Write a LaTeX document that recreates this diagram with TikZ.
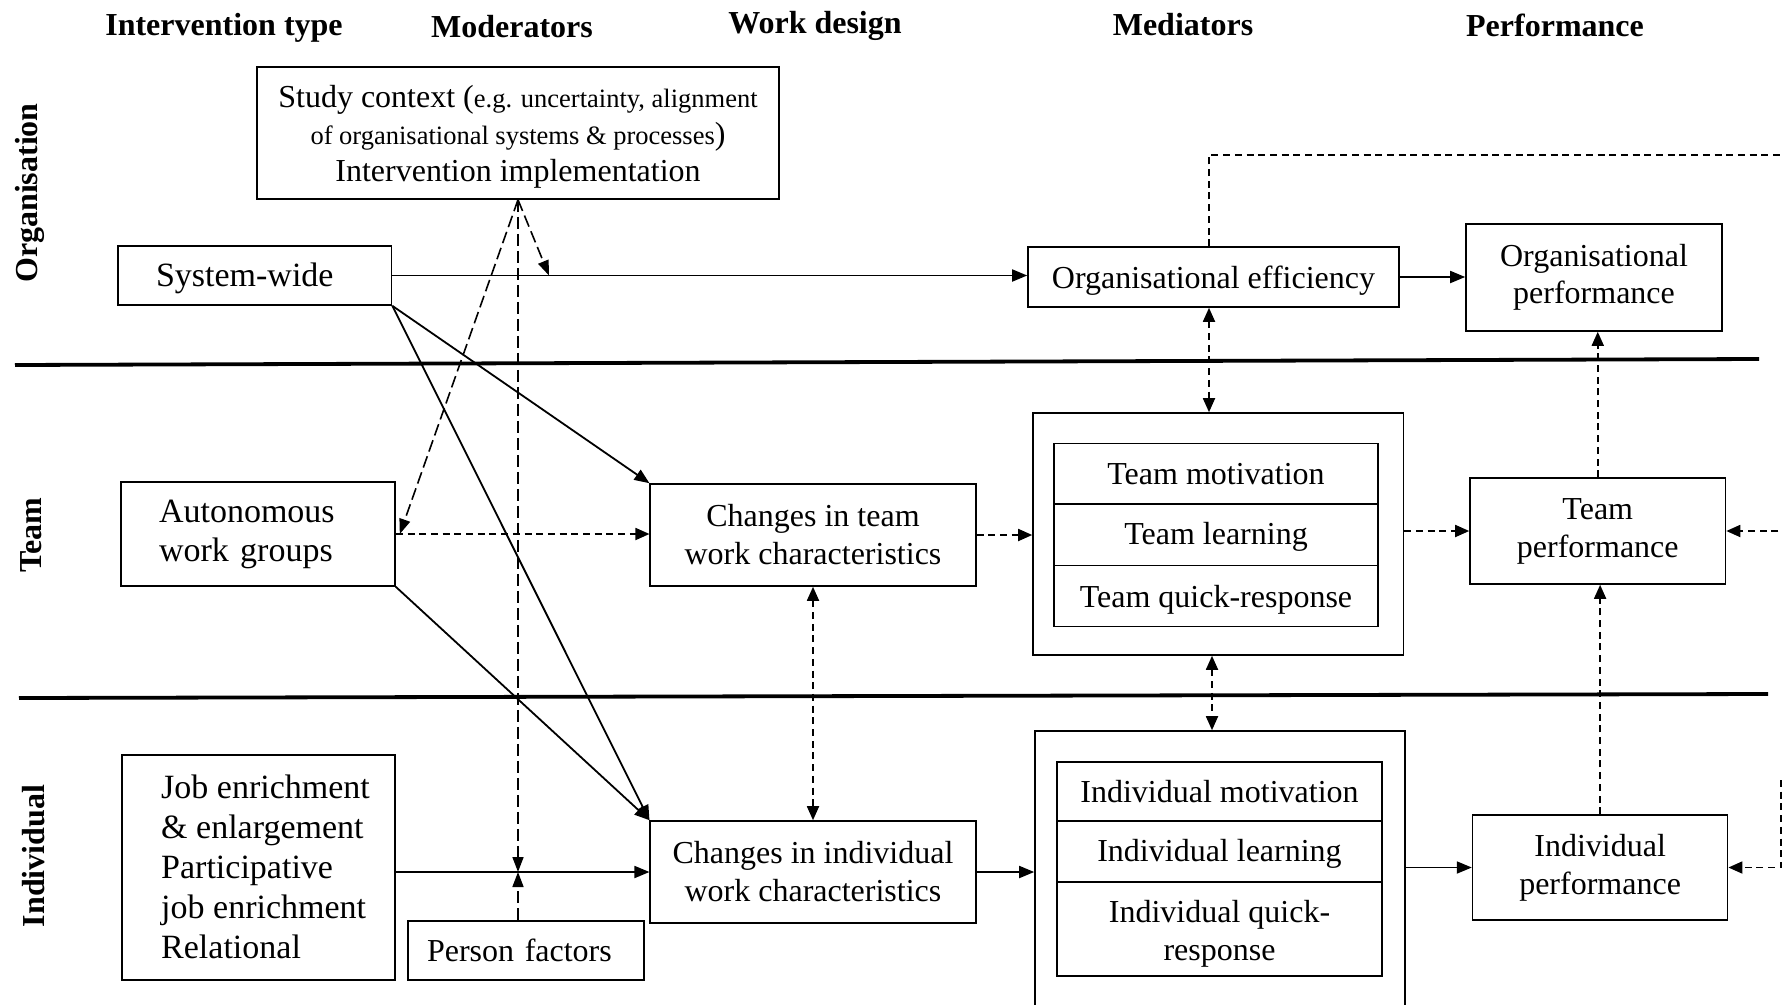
\documentclass[tikz,border=0pt]{standalone}
\usepackage{fontspec}
\setmainfont{Liberation Serif}
\usetikzlibrary{arrows.meta}
\newcommand\myfs[2]{\fontsize{#1pt}{#2pt}\selectfont}
\newcommand\lift[1]{\rule{0pt}{#1pt}}
\begin{document}
\begin{tikzpicture}[x=1pt,y=-1pt,
  box/.style={draw, line width=1.6pt, inner sep=0pt, align=center, font=\myfs{32}{38}},
  lbox/.style={box, align=left, font=\myfs{34}{39}},
  head/.style={font=\bfseries\myfs{32}{38}, inner sep=0pt},
  side/.style={font=\bfseries\myfs{32}{38}, inner sep=0pt, rotate=90},
  sep/.style={line width=3.8pt},
  arr/.style={line width=1.8pt, -{Triangle[length=15pt,width=12pt]}},
  darr/.style={line width=1.8pt, dash pattern=on 7pt off 4.7pt, -{Triangle[length=14pt,width=12pt]}},
  darrb/.style={line width=1.8pt, dash pattern=on 7pt off 4.7pt, {Triangle[length=14pt,width=12pt]}-{Triangle[length=14pt,width=12pt]}},
  dline/.style={line width=1.8pt, dash pattern=on 7pt off 4.7pt},
  ldarr/.style={line width=1.6pt, dash pattern=on 12pt off 5pt, -{Triangle[length=15pt,width=11pt]}}
]
\clip (0,0) rectangle (1783,1004);
\fill[white] (0,0) rectangle (1783,1004);

% headings
\node[head] (h1) at (224,28) {Intervention type};
\node[head] (h2) at (512,27) {Moderators};
\node[head] (h3) at (815,26) {Work design};
\node[head] (h4) at (1183,25) {Mediators};
\node[head] (h5) at (1555,25) {Performance};

\node[side] (s1) at (30,193) {Organisation};
\node[side] (s2) at (31,535) {Team};
\node[side] (s3) at (34,856) {Individual};

% separators
\draw[sep] (15,365) -- (1759,359);
\draw[sep] (19,698) -- (1768,694);

% boxes
\node[box, minimum width=522pt, minimum height=132pt, font=\myfs{32}{37}] (ctx) at (518,133)
  {\lift{29}Study context ({\myfs{26.5}{37}e.g. uncertainty, alignment}\\
   {\myfs{26.5}{37}of organisational systems \& processes})\\
   Intervention implementation};

\node[lbox, text width=197.5pt, inner xsep=38pt, minimum width=273.5pt, minimum height=59pt] (sys) at (254.75,275.5) {\lift{30}System-wide};
\node[lbox, text width=198pt, inner xsep=38pt, minimum width=274pt, minimum height=104pt] (auton) at (258,534) {Autonomous\\work groups};
\node[box, minimum width=273pt, minimum height=225pt] (job) at (258.5,867.5) {};
\node[font=\myfs{34}{40}, align=left, anchor=west, inner sep=0pt] (jobtxt) at (161,867)
  {Job enrichment\\\& enlargement\\Participative\\job enrichment\\Relational};
\node[box, align=left, text width=198pt, inner xsep=19pt, minimum width=236pt, minimum height=59pt] (pers) at (526,950.5) {Person factors};

\node[box, minimum width=325.5pt, minimum height=102pt] (tchg) at (813,535) {Changes in team\\work characteristics};
\node[box, minimum width=325.5pt, minimum height=102pt] (ichg) at (813,872) {Changes in individual\\work characteristics};

\node[box, minimum width=371pt, minimum height=60pt] (oeff) at (1213.5,277) {\lift{29}Organisational efficiency};
\node[box, minimum width=256pt, minimum height=107pt, font=\myfs{32}{37}] (operf) at (1594,277.5) {Organisational\\performance};

\node[box, minimum width=370.5pt, minimum height=242pt] (tmed) at (1218.25,534) {};
\node[box, minimum width=324.3pt, minimum height=60.7pt] (tm1) at (1216,473.7) {Team motivation};
\node[box, minimum width=324.3pt, minimum height=61.4pt] (tm2) at (1216,534.7) {\lift{26}Team learning};
\node[box, minimum width=324.3pt, minimum height=60.9pt] (tm3) at (1216,595.9) {\lift{29}Team quick-response};

\node[box, minimum width=370pt, minimum height=309pt] (imed) at (1220,885.5) {};
\node[box, minimum width=325pt, minimum height=59pt] (im1) at (1219.5,791.5) {Individual motivation};
\node[box, minimum width=325pt, minimum height=61pt] (im2) at (1219.5,851.5) {\lift{26}Individual learning};
\node[box, minimum width=325pt, minimum height=94pt] (im3) at (1219.5,929) {\lift{32}Individual quick-\\response};

\node[box, minimum width=255.5pt, minimum height=106pt] (tperf) at (1597.75,531) {Team\\performance};
\node[box, minimum width=255pt, minimum height=105pt] (iperf) at (1600.1,867.5) {Individual\\performance};

% helper coordinates
\coordinate (apex) at (ctx.south);
\coordinate (m1) at (549,275.5);
\coordinate (v1) at (1209,0);
\coordinate (v2) at (1212,0);
\coordinate (rt) at (1790,533);
\coordinate (rb) at (1781,780);
\coordinate (tr) at (1790,155);

% solid arrows
\draw[arr] (sys.east) -- (sys.east -| oeff.west);
\draw[arr] (oeff.east) -- (oeff.east -| operf.west);
\draw[arr] (sys.south east) -- (tchg.north west);
\draw[arr] (sys.south east) -- (ichg.north west);
\draw[arr] (auton.south east) -- (ichg.north west);
\draw[arr] (job.east |- ichg.west) -- (ichg.west);
\draw[arr] (ichg.east) -- (ichg.east -| imed.west);
\draw[arr] (imed.east |- iperf.west) -- (iperf.west);

% dashed arrows
\draw[darr] (auton.east) -- (auton.east -| tchg.west);
\draw[darr] (tchg.east) -- (tchg.east -| tmed.west);
\draw[darr] (tmed.east |- tperf.west) -- (tperf.west);
\draw[darr] (rt |- tperf.east) -- (tperf.east);
\draw[darr] (rb) |- (iperf.east);
\draw[darrb] (oeff.south -| v1) -- (tmed.north -| v1);
\draw[darrb] (tmed.south -| v2) -- (imed.north -| v2);
\draw[darrb] (tchg.south) -- (ichg.north);
\draw[darr] (tperf.north) -- (tperf.north |- operf.south);
\draw[darr] (iperf.north) -- (iperf.north |- tperf.south);
\draw[dline] (oeff.north -| v1) |- (tr);

% long-dashed moderator arrows
\draw[ldarr] (apex) -- (m1);
\draw[ldarr] (apex) -- ([xshift=4pt]auton.east);
\draw[ldarr] (apex) -- (apex |- ichg.west);
\draw[ldarr] (apex |- pers.north) -- (apex |- ichg.west);
\end{tikzpicture}
\end{document}
